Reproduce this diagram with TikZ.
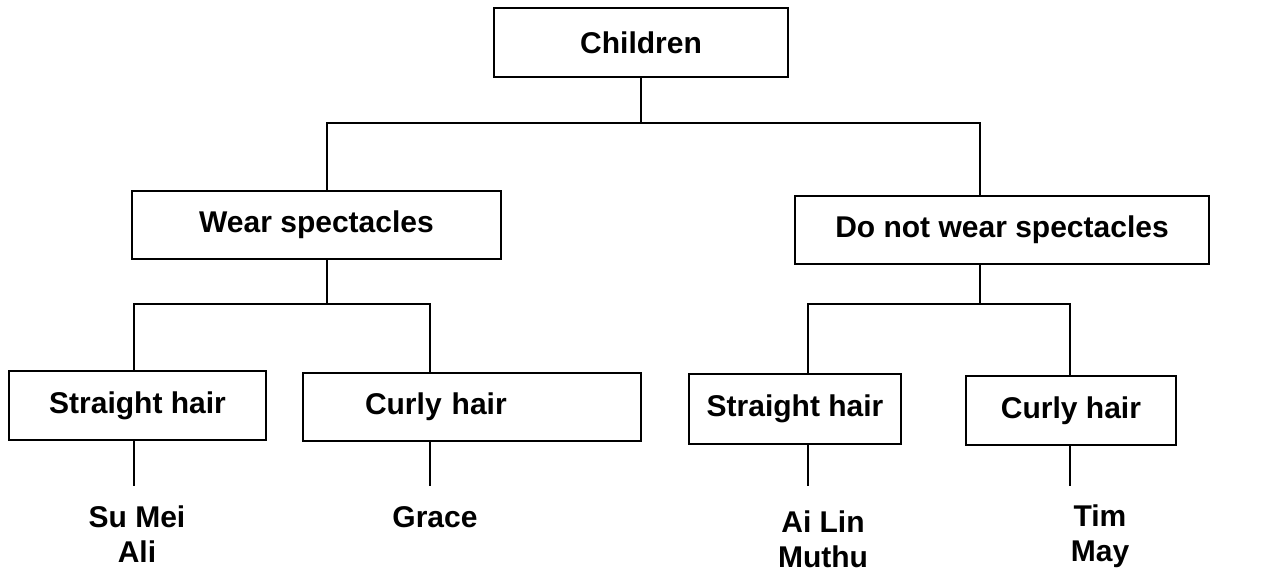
\documentclass[tikz,border=0pt]{standalone}
\usepackage{fontspec}
\setmainfont{Liberation Sans}
\begin{document}
\begin{tikzpicture}[x=1pt,y=-1pt,line width=1.6pt,
  box/.style={draw,line width=1.6pt,inner sep=0pt,font=\bfseries\fontsize{30}{35}\selectfont},
  leaf/.style={align=center,inner sep=0pt,font=\bfseries\fontsize{30}{35}\selectfont},
  conn/.style={line width=1.6pt}]
\useasboundingbox (0,0) rectangle (1288,572);
\node[box,minimum width=294pt,minimum height=69pt] (children) at (641,42.5) {Children};
\node[box,minimum width=369pt,minimum height=68pt] (wear) at (316.5,225) {Wear spectacles};
\node[box,minimum width=414pt,minimum height=68pt] (donot) at (1002,230) {Do not wear spectacles};
\node[box,minimum width=257pt,minimum height=69pt] (str1) at (137.5,405.5) {Straight hair};
\node[box,minimum width=338pt,minimum height=68pt,text width=214pt,align=left,inner xsep=62pt] (curly1) at (472,407) {Curly hair};
\node[box,minimum width=212pt,minimum height=70pt] (str2) at (795,409) {Straight hair};
\node[box,minimum width=210pt,minimum height=69pt] (curly2) at (1071,410.5) {Curly hair};
\node[leaf] (sumei) at (137,534.5) {Su Mei\\Ali};
\node[leaf] (grace) at (435,517) {Grace};
\node[leaf] (ailin) at (823,539.5) {Ai Lin\\Muthu};
\node[leaf] (tim) at (1100,536) {Tim\\May};
\coordinate (busL) at (327,123);
\coordinate (busR) at (980,123);
\coordinate (a1) at (134,304);
\coordinate (a2) at (430,304);
\coordinate (c1) at (808,304);
\coordinate (c2) at (1070,304);
\coordinate (lv) at (0,486);
\draw[conn] (children.south) -- (children.south |- busL);
\draw[conn] (wear.north -| busL) -- (busL) -- (busR) -- (donot.north -| busR);
\draw[conn] (wear.south -| busL) -- (busL |- a1);
\draw[conn] (str1.north -| a1) -- (a1) -- (a2) -- (curly1.north -| a2);
\draw[conn] (donot.south -| busR) -- (busR |- c1);
\draw[conn] (str2.north -| c1) -- (c1) -- (c2) -- (curly2.north -| c2);
\draw[conn] (str1.south -| a1) -- (a1 |- lv);
\draw[conn] (curly1.south -| a2) -- (a2 |- lv);
\draw[conn] (str2.south -| c1) -- (c1 |- lv);
\draw[conn] (curly2.south -| c2) -- (c2 |- lv);
\end{tikzpicture}
\end{document}
